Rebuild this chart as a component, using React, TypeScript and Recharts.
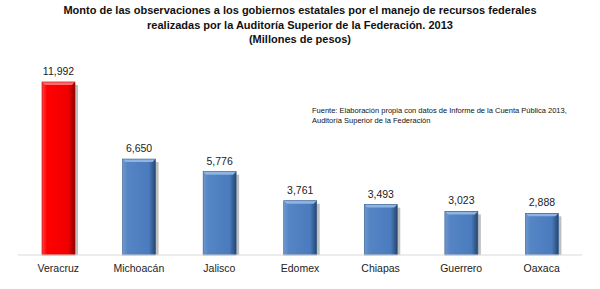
import React from 'react';
import { BarChart, Bar, XAxis, YAxis, Cell, LabelList } from 'recharts';

const estados = ['Veracruz', 'Michoacán', 'Jalisco', 'Edomex', 'Chiapas', 'Guerrero', 'Oaxaca'];
const montos = [11992, 6650, 5776, 3761, 3493, 3023, 2888];
const colores = ['red', 'blue', 'blue', 'blue', 'blue', 'blue', 'blue'];

const data = estados.map((e, i) => ({ estado: e, monto: montos[i], color: colores[i] }));

const fmt = (v: any) => Number(v).toLocaleString('en-US');

// bar drawn with a bevelled, shaded look
function BevelBar(props: any) {
    const { x, y, width, height, payload } = props;
    if (!height || height <= 0) return null;
    const isRed = payload.color === 'red';
    const grad = isRed ? 'url(#gRed)' : 'url(#gBlue)';
    const top = isRed ? '#ff6a6a' : '#8fb4e3';
    const b = 3;
    return (
        <g>
            <rect x={x + 3} y={y + 3} width={width} height={height - 3} fill="#000" opacity={0.25} />
            <rect x={x} y={y} width={width} height={height} fill={grad} />
            <polygon points={`${x},${y} ${x + width},${y} ${x + width - b},${y + b} ${x + b},${y + b}`} fill={top} />
            <rect x={x} y={y} width={width} height={height} fill="none" stroke={isRed ? '#c00000' : '#2e5b8c'} strokeWidth={0.6} />
        </g>
    );
}

export default function App() {
    return (
        <div style={{ position: 'absolute', left: 0, top: 0, width: 600, height: 289, background: '#fff', fontFamily: 'Liberation Sans Narrow, Liberation Sans, sans-serif' }}>
            <div style={{ position: 'absolute', left: 0, top: 3, width: 600, textAlign: 'center', fontWeight: 'bold', fontSize: 11, lineHeight: '14.5px', color: '#111' }}>
                <div>Monto de las observaciones a los gobiernos estatales por el manejo de recursos federales</div>
                <div>realizadas por la Auditoría Superior de la Federación. 2013</div>
                <div>(Millones de pesos)</div>
            </div>
            <div style={{ position: 'absolute', left: 312, top: 106, fontSize: 7.5, lineHeight: '10px', color: '#111' }}>
                <div>Fuente: Elaboración propia con datos de Informe de la Cuenta Pública 2013,</div>
                <div>Auditoría Superior de la Federación</div>
            </div>
            <BarChart width={600} height={289} data={data} margin={{ top: 53, right: 18, left: 18, bottom: 0 }}>
                <defs>
                    <linearGradient id="gBlue" x1="0" y1="0" x2="1" y2="0">
                        <stop offset="0%" stopColor="#6d98cf" />
                        <stop offset="15%" stopColor="#5585c4" />
                        <stop offset="80%" stopColor="#4a7bbd" />
                        <stop offset="100%" stopColor="#24466f" />
                    </linearGradient>
                    <linearGradient id="gRed" x1="0" y1="0" x2="1" y2="0">
                        <stop offset="0%" stopColor="#ff4040" />
                        <stop offset="15%" stopColor="#ff0000" />
                        <stop offset="80%" stopColor="#f00000" />
                        <stop offset="100%" stopColor="#8a0000" />
                    </linearGradient>
                </defs>
                <XAxis
                    dataKey="estado"
                    height={34}
                    tickLine={false}
                    axisLine={{ stroke: '#d9d9d9' }}
                    tick={{ fontSize: 10.5, fill: '#222', fontFamily: 'Liberation Sans, sans-serif' }}
                    tickMargin={4}
                    interval={0}
                />
                <YAxis hide domain={[0, 14000]} />
                <Bar dataKey="monto" barSize={33} shape={<BevelBar />} isAnimationActive={false}>
                    {data.map((d) => (
                        <Cell key={d.estado} fill={d.color} />
                    ))}
                    <LabelList dataKey="monto" position="top" offset={7} formatter={fmt} style={{ fontSize: 10.5, fill: '#222', fontFamily: 'Liberation Sans, sans-serif' }} />
                </Bar>
            </BarChart>
        </div>
    );
}
